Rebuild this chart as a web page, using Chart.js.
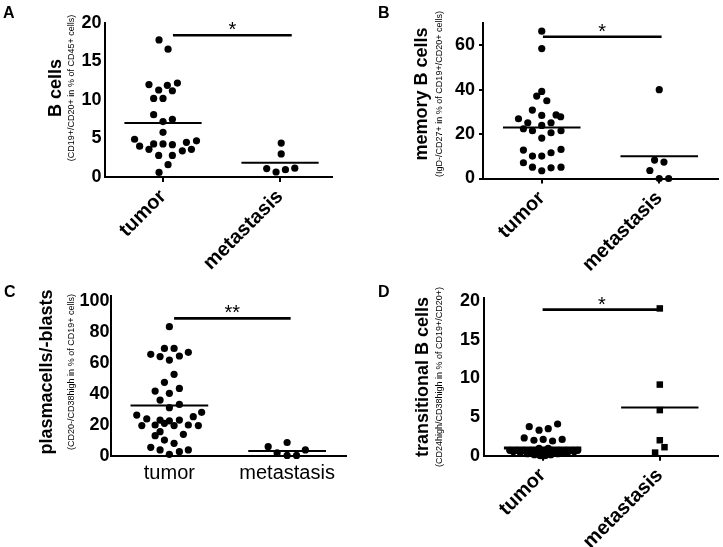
<!DOCTYPE html>
<html>
<head>
<meta charset="utf-8">
<script src="https://cdn.jsdelivr.net/npm/chart.js@4.4.1/dist/chart.umd.min.js"></script>
<style>
  html, body { margin: 0; padding: 0; background: #fff; }
  #wrap { position: relative; width: 723px; height: 547px; overflow: hidden; }
  canvas { position: absolute; }
</style>
</head>
<body>
<div id="wrap">
  <canvas id="chartA" width="360" height="273" style="left:0;top:0"></canvas>
  <canvas id="chartB" width="363" height="273" style="left:360px;top:0"></canvas>
  <canvas id="chartC" width="360" height="274" style="left:0;top:273px"></canvas>
  <canvas id="chartD" width="363" height="274" style="left:360px;top:273px"></canvas>
</div>
<script>
const groups = ['tumor', 'metastasis'];

// A - B cells
const aTumor    = [17.8, 16.6, 12.0, 12.2, 11.3, 11.9, 11.2, 10.2, 10.2, 8.1, 7.2, 7.5, 5.8, 4.9, 4.0, 3.6, 4.3, 4.3, 4.2, 4.5, 4.7, 3.4, 3.6, 2.8, 2.8, 1.6, 0.6];
const aTumorJit = [-0.034, 0.043, -0.12, 0.123, -0.037, 0.037, 0.08, -0.08, 0, -0.08, 0, 0.08, 0, -0.243, -0.2, -0.12, -0.08, 0, 0.08, 0.2, 0.286, 0.165, 0.243, -0.037, 0.08, 0.043, -0.034];
const aMeta     = [4.4, 3.0, 1.1, 0.65, 0.95, 1.15];
const aMetaJit  = [0.01, 0.01, -0.114, -0.034, 0.046, 0.126];
const aMeans    = [7.0, 1.85];
const aTicks    = [0, 5, 10, 15, 20];
const aSig      = [1.085, 2.1, 18.4];

// B - memory B cells
const bTumor    = [66.3, 58.5, 39.2, 37.1, 35.0, 30.8, 28.4, 28.6, 27.8, 26.9, 25.1, 25.1, 23.9, 22.4, 21.5, 20.6, 21.5, 18.2, 12.8, 13.1, 11.6, 10.1, 10.1, 7.1, 5.1, 3.5, 4.8, 5.1];
const bTumorJit = [0, 0, 0, -0.043, 0.043, -0.08, 0, 0.122, 0.161, -0.198, -0.119, 0.079, 0, -0.156, -0.079, 0.079, 0.164, 0, -0.156, 0.164, 0.079, -0.079, 0, -0.156, -0.079, 0, 0.079, 0.164];
const bMeta     = [40.0, 8.3, 7.4, 3.6, 0, 0];
const bMetaJit  = [0, -0.04, 0.04, -0.08, 0, 0.08];
const bMeans    = [23.0, 10.0];
const bTicks    = [0, 20, 40, 60];
const bSig      = [1.01, 2.02, 63.8];

// C - plasmacells/-blasts
const cTumor    = [83.2, 69.2, 69.2, 65.4, 63.9, 61.7, 64.3, 66.7, 52.5, 47.3, 41.7, 40.2, 43.4, 35.9, 31.0, 33.1, 26.2, 23.7, 23.0, 22.4, 23.0, 25.2, 28.0, 19.4, 19.8, 20.9, 19.4, 19.8, 19.4, 15.5, 13.8, 12.9, 10.1, 8.0, 5.4, 3.7, 0.9, 2.6, 3.7];
const cTumorJit = [0, -0.042, 0.04, -0.158, -0.079, 0, 0.085, 0.161, 0.04, -0.042, -0.121, 0, 0.085, -0.079, 0, 0.085, -0.277, -0.192, -0.079, 0, 0.085, 0.203, 0.274, -0.234, -0.121, -0.042, 0.04, 0.161, 0.246, -0.079, 0.119, -0.121, -0.042, 0.04, -0.158, -0.079, 0, 0.085, 0.161];
const cMeta     = [5.8, 8.5, 3.7, 1.8, 0.2, 0.2];
const cMetaJit  = [-0.161, 0, 0.155, -0.085, 0, 0.08];
const cMeans    = [32.3, 3.0];
const cTicks    = [0, 20, 40, 60, 80, 100];
const cSig      = [1.04, 2.03, 88.6];

// D - transitional B cells (many near-zero values pile up under the mean line)
const dTumor    = [3.75, 3.3, 3.5, 4.1, 2.3, 2.0, 2.1, 1.9, 2.1, 0.95, 0.95,
                   0.7, 0.7, 0.7, 0.7, 0.7, 0.7, 0.7, 0.7, 0.7, 0.7, 0.7,
                   0.55, 0.55, 0.55, 0.55, 0.55, 0.55, 0.55, 0.55, 0.55, 0.55,
                   0.4, 0.4, 0.4, 0.4, 0.4, 0.4, 0.4, 0.4,
                   0.25, 0.25, 0.25, 0.25, 0.25, 0.25,
                   0.12, 0.12, 0.12, 0.12, 0.0, 0.0];
const dTumorJit = [-0.114, -0.03, 0.048, 0.128, -0.157, -0.074, 0.005, 0.085, 0.167, -0.03, 0.048,
                   -0.28, -0.22, -0.16, -0.10, -0.04, 0.02, 0.08, 0.14, 0.20, 0.26, 0.30,
                   -0.25, -0.19, -0.13, -0.07, -0.01, 0.05, 0.11, 0.17, 0.22, 0.27,
                   -0.19, -0.13, -0.07, -0.01, 0.05, 0.11, 0.16, 0.20,
                   -0.13, -0.08, -0.03, 0.02, 0.08, 0.13,
                   -0.07, -0.02, 0.03, 0.07, -0.02, 0.02];
const dMeta     = [19.05, 9.2, 5.9, 2.0, 1.1, 0.4];
const dMetaJit  = [0, 0, 0, 0, 0.04, -0.04];
const dMeans    = [1.0, 6.25];
const dTicks    = [0, 5, 10, 15, 20];
const dSig      = [1.0, 2.01, 18.9];

const FONT = '"Liberation Sans", Arial, Helvetica, sans-serif';
const MEAN_HALF = 0.33;

const panelText = {
  id: 'panelText',
  afterDraw(chart, args, o) {
    const ctx = chart.ctx;
    const xs = chart.scales.x, ys = chart.scales.y;
    ctx.save();
    ctx.fillStyle = '#000';
    // panel letter
    ctx.font = 'bold 16px ' + FONT;
    ctx.textAlign = 'left';
    ctx.textBaseline = 'alphabetic';
    ctx.fillText(o.letter, o.letterPos[0], o.letterPos[1]);
    // significance stars
    ctx.font = '20px ' + FONT;
    ctx.textAlign = 'center';
    ctx.fillText(o.star, xs.getPixelForValue((o.sig[0] + o.sig[1]) / 2), ys.getPixelForValue(o.sig[2]) + 1);
    // y titles
    ctx.textBaseline = 'middle';
    ctx.save();
    ctx.translate(o.titleX, o.titleY);
    ctx.rotate(-Math.PI / 2);
    ctx.font = 'bold 18px ' + FONT;
    ctx.fillText(o.title, 0, 0);
    ctx.restore();
    ctx.save();
    ctx.translate(o.subX, o.titleY);
    ctx.rotate(-Math.PI / 2);
    ctx.font = '9px ' + FONT;
    ctx.fillText(o.sub, 0, 0);
    ctx.restore();
    ctx.restore();
  }
};

function lineSet(x0, x1, y, w) {
  return {
    type: 'scatter', showLine: true, pointRadius: 0, borderColor: '#000', borderWidth: w,
    clip: false, data: [{ x: x0, y: y }, { x: x1, y: y }]
  };
}

function makePanel(id, p) {
  const canvas = document.getElementById(id);
  const W = canvas.width, H = canvas.height;
  const datasets = [
    {
      data: p.tumor.map((v, i) => ({ x: 1 + p.tumorJit[i], y: v })),
      pointRadius: 3.6, pointStyle: 'circle', backgroundColor: '#000', borderWidth: 0, clip: false
    },
    {
      data: p.meta.map((v, i) => ({ x: 2 + p.metaJit[i], y: v })),
      pointRadius: p.squares ? 4.6 : 3.6, pointStyle: p.squares ? 'rect' : 'circle',
      backgroundColor: '#000', borderWidth: 0, clip: false
    },
    lineSet(1 - MEAN_HALF, 1 + MEAN_HALF, p.means[0], p.meanW || 2),
    lineSet(2 - MEAN_HALF, 2 + MEAN_HALF, p.means[1], 2),
    lineSet(p.sig[0], p.sig[1], p.sig[2], 2.6)
  ];
  return new Chart(canvas, {
    type: 'scatter',
    data: { datasets: datasets },
    plugins: [panelText],
    options: {
      responsive: false,
      animation: false,
      devicePixelRatio: 1,
      layout: { padding: { top: p.area.top, right: W - p.area.right, left: 0, bottom: 0 } },
      plugins: {
        legend: { display: false },
        tooltip: { enabled: false },
        panelText: {
          letter: p.letter, letterPos: p.letterPos, star: p.star, sig: p.sig,
          title: p.title, sub: p.sub, titleX: p.titleX, subX: p.subX, titleY: p.titleY
        }
      },
      scales: {
        x: {
          type: 'linear', min: 0.5, max: p.xMax,
          afterBuildTicks: s => { s.ticks = [{ value: 1 }, { value: 2 }]; },
          afterFit: s => { s.height = H - p.area.bottom; s.paddingLeft = 0; s.paddingRight = 0; },
          grid: { drawOnChartArea: false, drawTicks: p.xTickLen > 0, tickLength: p.xTickLen, color: '#000', lineWidth: 2 },
          border: { display: true, color: '#000', width: 2 },
          ticks: {
            autoSkip: false, minRotation: p.rotate, maxRotation: p.rotate, padding: p.xPad,
            color: '#000', font: { family: FONT, size: 20, weight: p.rotate ? 'bold' : 'normal' },
            callback: v => groups[v - 1]
          }
        },
        y: {
          type: 'linear', min: 0, max: p.yMax,
          afterBuildTicks: s => { s.ticks = p.ticks.map(v => ({ value: v })); },
          afterFit: s => { s.width = p.area.left; s.paddingTop = 0; s.paddingBottom = 0; },
          grid: { drawOnChartArea: false, drawTicks: p.yTickLen > 0, tickLength: p.yTickLen, color: '#000', lineWidth: 2 },
          border: { display: true, color: '#000', width: 2 },
          ticks: { padding: p.yPad, color: '#000', font: { family: FONT, size: 18, weight: 'bold' } }
        }
      }
    }
  });
}

makePanel('chartA', {
  tumor: aTumor, tumorJit: aTumorJit, meta: aMeta, metaJit: aMetaJit, means: aMeans, ticks: aTicks, sig: aSig,
  star: '*', yMax: 20, xMax: 2.444, area: { left: 104.5, right: 332, top: 23, bottom: 177 },
  rotate: 45, xTickLen: 5, xPad: 3, yTickLen: 0, yPad: 3,
  letter: 'A', letterPos: [3, 18], title: 'B cells', sub: '(CD19+/CD20+ in % of CD45+ cells)',
  titleX: 56, subX: 72, titleY: 88
});

makePanel('chartB', {
  tumor: bTumor, tumorJit: bTumorJit, meta: bMeta, metaJit: bMetaJit, means: bMeans, ticks: bTicks, sig: bSig,
  star: '*', yMax: 70, xMax: 2.5, area: { left: 123, right: 358, top: 23, bottom: 178.5 },
  rotate: 45, xTickLen: 5, xPad: 3, yTickLen: 4, yPad: 4,
  letter: 'B', letterPos: [18, 18], title: 'memory B cells', sub: '(IgD-/CD27+ in % of CD19+/CD20+ cells)',
  titleX: 62, subX: 80, titleY: 94
});

makePanel('chartC', {
  tumor: cTumor, tumorJit: cTumorJit, meta: cMeta, metaJit: cMetaJit, means: cMeans, ticks: cTicks, sig: cSig,
  star: '**', yMax: 103, xMax: 2.5, area: { left: 110.5, right: 346, top: 23, bottom: 182.7 },
  rotate: 0, xTickLen: 0, xPad: 6, yTickLen: 0, yPad: 1,
  letter: 'C', letterPos: [4, 24], title: 'plasmacells/-blasts', sub: '(CD20-/CD38high in % of CD19+ cells)',
  titleX: 47, subX: 72, titleY: 99
});

makePanel('chartD', {
  tumor: dTumor, tumorJit: dTumorJit, meta: dMeta, metaJit: dMetaJit, means: dMeans, ticks: dTicks, sig: dSig,
  star: '*', yMax: 20.4, xMax: 2.5, area: { left: 124, right: 359, top: 25, bottom: 182.7 },
  rotate: 45, xTickLen: 5, xPad: 3, yTickLen: 0, yPad: 4, squares: true, meanW: 3,
  letter: 'D', letterPos: [18, 24], title: 'transitional B cells', sub: '(CD24high/CD38high in % of CD19+/CD20+)',
  titleX: 63, subX: 80, titleY: 104
});
</script>
</body>
</html>
